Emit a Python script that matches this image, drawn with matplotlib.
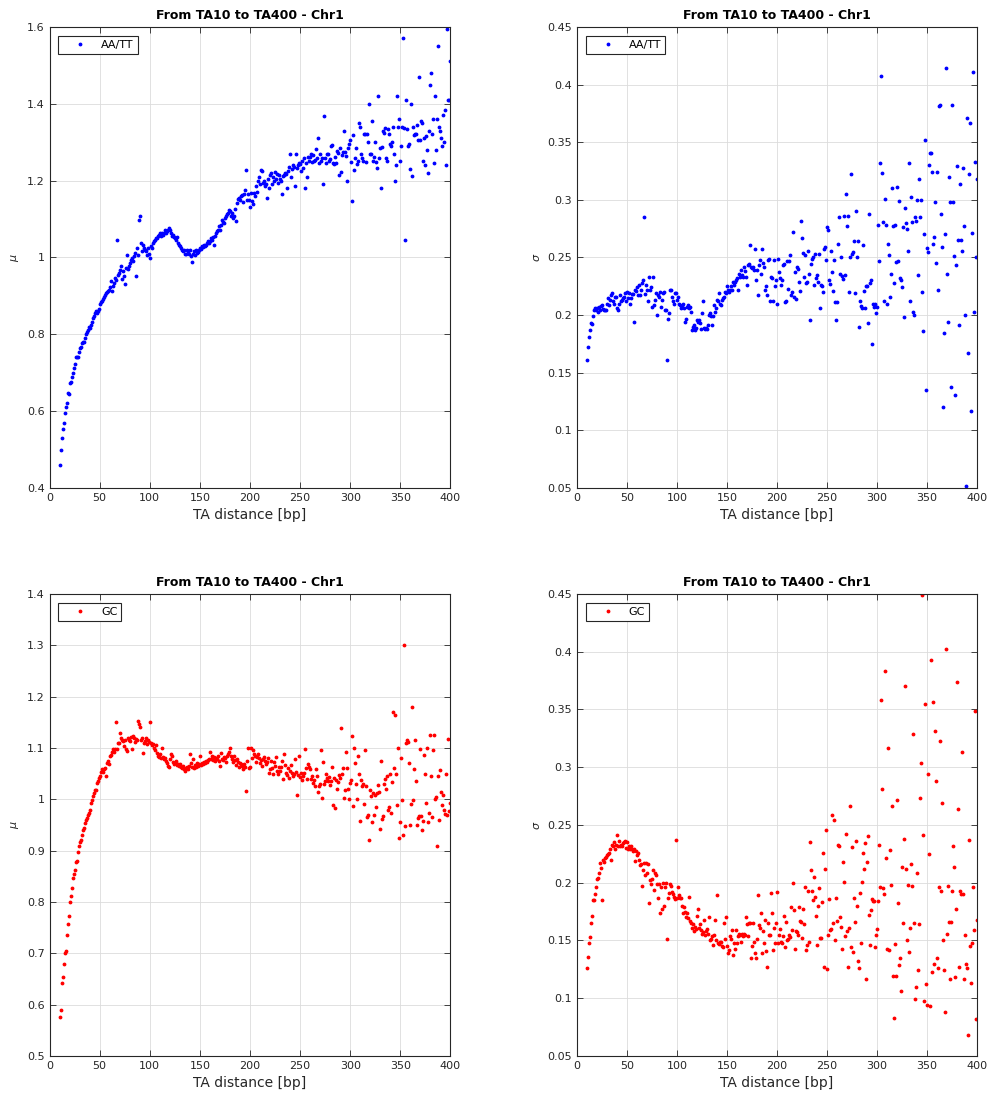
import numpy as np
import matplotlib
matplotlib.use('Agg')
import matplotlib.pyplot as plt
from matplotlib.ticker import FuncFormatter

# TA distance, bp
ta_dist = np.arange(10, 401)

# mean value, AA/TT
mu_aatt = [
    0.460, 0.500, 0.530, 0.553, 0.570, 0.595, 0.610, 0.620, 0.647, 0.644,
    0.673, 0.677, 0.690, 0.700, 0.712, 0.723, 0.742, 0.742, 0.742, 0.755,
    0.764, 0.768, 0.777, 0.781, 0.781, 0.790, 0.800, 0.807, 0.812, 0.819,
    0.816, 0.825, 0.833, 0.842, 0.848, 0.855, 0.860, 0.855, 0.860, 0.866,
    0.880, 0.883, 0.886, 0.892, 0.896, 0.903, 0.907, 0.909, 0.912, 0.916,
    0.923, 0.938, 0.912, 0.925, 0.933, 0.946, 0.942, 1.046, 0.955, 0.960,
    0.968, 0.977, 0.944, 0.964, 0.951, 0.932, 0.972, 1.007, 0.970, 0.977,
    0.985, 0.994, 0.998, 0.990, 1.003, 1.012, 0.952, 1.024, 1.007, 1.098,
    1.109, 1.037, 1.016, 1.033, 1.024, 1.020, 1.016, 1.007, 1.024, 1.010,
    0.998, 1.029, 1.024, 1.037, 1.042, 1.046, 1.050, 1.050, 1.055, 1.059,
    1.063, 1.055, 1.063, 1.059, 1.063, 1.072, 1.063, 1.068, 1.072, 1.077,
    1.072, 1.063, 1.055, 1.059, 1.053, 1.050, 1.046, 1.053, 1.037, 1.033,
    1.029, 1.024, 1.020, 1.016, 1.020, 1.010, 1.010, 1.020, 1.016, 1.010,
    1.020, 1.003, 0.987, 1.010, 1.016, 1.007, 1.020, 1.012, 1.014, 1.020,
    1.024, 1.022, 1.029, 1.027, 1.033, 1.031, 1.033, 1.037, 1.042, 1.037,
    1.044, 1.050, 1.046, 1.053, 1.033, 1.055, 1.063, 1.068, 1.072, 1.081,
    1.072, 1.085, 1.098, 1.092, 1.090, 1.103, 1.107, 1.112, 1.116, 1.123,
    1.120, 1.107, 1.116, 1.103, 1.109, 1.127, 1.094, 1.142, 1.152, 1.155,
    1.150, 1.160, 1.162, 1.145, 1.165, 1.176, 1.228, 1.150, 1.165, 1.150,
    1.132, 1.168, 1.148, 1.140, 1.168, 1.160, 1.185, 1.170, 1.200, 1.210,
    1.190, 1.228, 1.225, 1.195, 1.200, 1.185, 1.190, 1.155, 1.205, 1.180,
    1.215, 1.220, 1.190, 1.210, 1.200, 1.222, 1.205, 1.218, 1.195, 1.215,
    1.205, 1.200, 1.165, 1.212, 1.215, 1.220, 1.218, 1.180, 1.225, 1.235,
    1.270, 1.210, 1.230, 1.240, 1.235, 1.185, 1.268, 1.232, 1.240, 1.245,
    1.244, 1.226, 1.250, 1.232, 1.258, 1.180, 1.245, 1.210, 1.262, 1.252,
    1.262, 1.270, 1.248, 1.266, 1.250, 1.254, 1.282, 1.258, 1.310, 1.246,
    1.270, 1.252, 1.258, 1.190, 1.368, 1.258, 1.245, 1.270, 1.268, 1.250,
    1.255, 1.290, 1.292, 1.246, 1.244, 1.262, 1.246, 1.278, 1.272, 1.214,
    1.284, 1.222, 1.266, 1.274, 1.330, 1.274, 1.265, 1.200, 1.285, 1.296,
    1.305, 1.248, 1.148, 1.318, 1.228, 1.260, 1.286, 1.244, 1.250, 1.350,
    1.340, 1.268, 1.260, 1.250, 1.320, 1.320, 1.248, 1.320, 1.300, 1.400,
    1.268, 1.268, 1.355, 1.250, 1.262, 1.300, 1.248, 1.232, 1.420, 1.260,
    1.285, 1.180, 1.288, 1.330, 1.325, 1.338, 1.260, 1.250, 1.335, 1.320,
    1.295, 1.290, 1.300, 1.340, 1.270, 1.200, 1.240, 1.420, 1.340, 1.360,
    1.250, 1.290, 1.340, 1.570, 1.338, 1.045, 1.410, 1.335, 1.290, 1.295,
    1.230, 1.400, 1.212, 1.340, 1.318, 1.320, 1.322, 1.345, 1.305, 1.470,
    1.305, 1.355, 1.350, 1.250, 1.312, 1.240, 1.315, 1.280, 1.220, 1.330,
    1.450, 1.480, 1.320, 1.360, 1.245, 1.420, 1.280, 1.360, 1.550, 1.340,
    1.330, 1.310, 1.290, 1.370, 1.300, 1.385, 1.240, 1.595, 1.410, 1.410,
    1.510]

# standard deviation, AA/TT
sigma_aatt = [
    0.161, 0.172, 0.181, 0.187, 0.193, 0.192, 0.199, 0.204, 0.206, 0.204,
    0.206, 0.203, 0.207, 0.204, 0.208, 0.209, 0.205, 0.204, 0.204, 0.204,
    0.210, 0.215, 0.209, 0.213, 0.217, 0.219, 0.212, 0.210, 0.216, 0.216,
    0.206, 0.204, 0.210, 0.217, 0.212, 0.213, 0.215, 0.216, 0.219, 0.212,
    0.220, 0.215, 0.219, 0.210, 0.215, 0.218, 0.218, 0.194, 0.222, 0.221,
    0.224, 0.217, 0.226, 0.217, 0.222, 0.228, 0.230, 0.285, 0.218, 0.226,
    0.222, 0.212, 0.233, 0.222, 0.224, 0.207, 0.233, 0.209, 0.213, 0.219,
    0.200, 0.217, 0.216, 0.220, 0.207, 0.213, 0.219, 0.220, 0.204, 0.204,
    0.161, 0.197, 0.202, 0.222, 0.222, 0.216, 0.212, 0.210, 0.219, 0.219,
    0.213, 0.216, 0.210, 0.209, 0.206, 0.207, 0.210, 0.206, 0.194, 0.197,
    0.207, 0.209, 0.206, 0.207, 0.203, 0.187, 0.190, 0.191, 0.187, 0.189,
    0.196, 0.194, 0.196, 0.193, 0.188, 0.202, 0.212, 0.189, 0.188, 0.189,
    0.188, 0.191, 0.200, 0.202, 0.199, 0.191, 0.199, 0.209, 0.203, 0.206,
    0.213, 0.212, 0.219, 0.210, 0.209, 0.213, 0.215, 0.216, 0.220, 0.219,
    0.225, 0.222, 0.220, 0.222, 0.225, 0.222, 0.229, 0.226, 0.229, 0.230,
    0.232, 0.222, 0.236, 0.233, 0.239, 0.235, 0.233, 0.242, 0.238, 0.233,
    0.226, 0.243, 0.244, 0.261, 0.242, 0.241, 0.242, 0.239, 0.257, 0.230,
    0.239, 0.217, 0.243, 0.248, 0.236, 0.257, 0.245, 0.242, 0.222, 0.225,
    0.217, 0.248, 0.249, 0.212, 0.233, 0.232, 0.212, 0.248, 0.225, 0.230,
    0.210, 0.249, 0.237, 0.232, 0.226, 0.230, 0.243, 0.244, 0.211, 0.212,
    0.247, 0.223, 0.247, 0.252, 0.217, 0.220, 0.272, 0.216, 0.237, 0.214,
    0.242, 0.240, 0.229, 0.221, 0.282, 0.267, 0.254, 0.233, 0.252, 0.228,
    0.229, 0.256, 0.236, 0.196, 0.244, 0.249, 0.250, 0.226, 0.253, 0.232,
    0.235, 0.229, 0.253, 0.206, 0.226, 0.225, 0.220, 0.257, 0.259, 0.248,
    0.276, 0.274, 0.230, 0.227, 0.256, 0.237, 0.221, 0.248, 0.211, 0.196,
    0.211, 0.262, 0.285, 0.236, 0.250, 0.234, 0.231, 0.286, 0.235, 0.305,
    0.277, 0.286, 0.220, 0.250, 0.322, 0.253, 0.255, 0.264, 0.219, 0.290,
    0.250, 0.264, 0.190, 0.212, 0.208, 0.206, 0.261, 0.221, 0.206, 0.225,
    0.225, 0.193, 0.288, 0.228, 0.230, 0.175, 0.210, 0.207, 0.210, 0.202,
    0.207, 0.278, 0.247, 0.332, 0.407, 0.323, 0.281, 0.212, 0.301, 0.278,
    0.210, 0.262, 0.252, 0.216, 0.236, 0.310, 0.277, 0.228, 0.278, 0.246,
    0.311, 0.247, 0.299, 0.232, 0.230, 0.224, 0.276, 0.198, 0.293, 0.280,
    0.275, 0.256, 0.332, 0.212, 0.302, 0.281, 0.203, 0.200, 0.285, 0.282,
    0.300, 0.235, 0.318, 0.285, 0.300, 0.220, 0.186, 0.270, 0.352, 0.135,
    0.258, 0.255, 0.330, 0.341, 0.341, 0.324, 0.262, 0.268, 0.298, 0.245,
    0.324, 0.222, 0.381, 0.382, 0.288, 0.259, 0.120, 0.184, 0.270, 0.414,
    0.236, 0.194, 0.320, 0.298, 0.138, 0.382, 0.298, 0.251, 0.131, 0.243,
    0.329, 0.265, 0.191, 0.314, 0.265, 0.256, 0.328, 0.277, 0.200, 0.052,
    0.371, 0.167, 0.322, 0.367, 0.117, 0.271, 0.411, 0.203, 0.333, 0.250,
    0.318]

# mean value, GC
mu_gc = [
    0.575, 0.590, 0.642, 0.653, 0.680, 0.701, 0.705, 0.736, 0.757, 0.772,
    0.800, 0.812, 0.827, 0.846, 0.855, 0.863, 0.877, 0.879, 0.898, 0.909,
    0.916, 0.921, 0.931, 0.940, 0.944, 0.954, 0.960, 0.963, 0.970, 0.974,
    0.980, 0.993, 0.999, 1.006, 1.013, 1.019, 1.018, 1.032, 1.035, 1.041,
    1.046, 1.054, 1.058, 1.054, 1.059, 1.061, 1.046, 1.070, 1.074, 1.068,
    1.084, 1.087, 1.093, 1.097, 1.092, 1.098, 1.150, 1.097, 1.110, 1.109,
    1.130, 1.120, 1.116, 1.113, 1.103, 1.115, 1.097, 1.094, 1.120, 1.116,
    1.113, 1.122, 1.097, 1.123, 1.120, 1.112, 1.118, 1.115, 1.152, 1.147,
    1.140, 1.115, 1.120, 1.090, 1.110, 1.113, 1.120, 1.107, 1.115, 1.112,
    1.150, 1.110, 1.105, 1.108, 1.100, 1.095, 1.105, 1.090, 1.085, 1.082,
    1.088, 1.080, 1.100, 1.082, 1.078, 1.080, 1.075, 1.070, 1.065, 1.062,
    1.078, 1.088, 1.085, 1.072, 1.068, 1.070, 1.075, 1.066, 1.068, 1.064,
    1.068, 1.062, 1.060, 1.065, 1.058, 1.056, 1.060, 1.062, 1.058, 1.064,
    1.088, 1.070, 1.062, 1.078, 1.060, 1.066, 1.062, 1.070, 1.065, 1.068,
    1.085, 1.066, 1.070, 1.068, 1.072, 1.070, 1.074, 1.073, 1.076, 1.078,
    1.092, 1.078, 1.085, 1.076, 1.082, 1.075, 1.080, 1.078, 1.085, 1.075,
    1.064, 1.090, 1.078, 1.076, 1.082, 1.080, 1.072, 1.085, 1.088, 1.092,
    1.100, 1.085, 1.078, 1.072, 1.085, 1.076, 1.066, 1.078, 1.072, 1.062,
    1.070, 1.068, 1.064, 1.058, 1.068, 1.062, 1.017, 1.075, 1.100, 1.060,
    1.062, 1.100, 1.080, 1.095, 1.088, 1.085, 1.072, 1.083, 1.088, 1.080,
    1.070, 1.076, 1.064, 1.078, 1.082, 1.075, 1.068, 1.072, 1.080, 1.052,
    1.058, 1.074, 1.060, 1.050, 1.072, 1.065, 1.082, 1.055, 1.050, 1.062,
    1.056, 1.062, 1.074, 1.040, 1.088, 1.066, 1.052, 1.047, 1.060, 1.042,
    1.056, 1.066, 1.052, 1.045, 1.050, 1.078, 1.053, 1.008, 1.048, 1.084,
    1.044, 1.052, 1.038, 1.045, 1.052, 1.098, 1.060, 1.040, 1.068, 1.062,
    1.058, 1.040, 1.045, 1.032, 1.038, 1.026, 1.058, 1.045, 1.015, 1.025,
    1.030, 1.096, 1.002, 1.072, 1.030, 1.035, 1.050, 1.042, 1.036, 1.044,
    1.028, 1.035, 1.062, 0.988, 1.042, 0.982, 1.038, 1.020, 1.034, 1.048,
    1.042, 1.139, 1.050, 1.060, 1.003, 1.018, 1.092, 1.060, 1.020, 1.000,
    1.032, 1.037, 1.124, 0.986, 1.100, 1.070, 1.030, 1.001, 1.085, 1.050,
    0.958, 1.038, 1.025, 1.030, 0.990, 1.095, 1.025, 0.965, 0.970, 0.920,
    1.018, 1.006, 0.955, 1.013, 0.969, 1.008, 0.985, 1.012, 1.028, 1.015,
    0.943, 1.075, 0.962, 0.968, 1.030, 1.040, 1.020, 1.045, 0.980, 0.985,
    1.050, 0.973, 1.033, 1.170, 1.060, 1.165, 1.050, 0.988, 1.100, 0.925,
    0.955, 1.080, 0.998, 0.930, 1.300, 0.948, 1.110, 1.115, 1.112, 1.070,
    0.950, 0.990, 1.180, 0.998, 1.058, 1.115, 1.035, 0.950, 0.963, 0.968,
    1.098, 0.968, 0.940, 0.958, 1.086, 1.050, 0.992, 1.100, 0.955, 0.973,
    1.125, 1.046, 0.966, 1.095, 1.125, 1.000, 1.005, 0.908, 1.045, 0.960,
    1.057, 1.015, 0.988, 1.008, 0.980, 0.972, 1.050, 0.970, 1.118, 0.978,
    0.992]

# standard deviation, GC
sigma_gc = [
    0.126, 0.136, 0.148, 0.153, 0.165, 0.171, 0.185, 0.185, 0.190, 0.196,
    0.203, 0.204, 0.208, 0.217, 0.213, 0.185, 0.220, 0.218, 0.221, 0.222,
    0.224, 0.225, 0.226, 0.229, 0.220, 0.233, 0.232, 0.235, 0.229, 0.233,
    0.241, 0.232, 0.236, 0.232, 0.233, 0.232, 0.234, 0.235, 0.236, 0.230,
    0.235, 0.229, 0.232, 0.229, 0.232, 0.229, 0.227, 0.229, 0.219, 0.227,
    0.224, 0.226, 0.220, 0.215, 0.216, 0.197, 0.211, 0.217, 0.207, 0.217,
    0.208, 0.216, 0.182, 0.202, 0.199, 0.203, 0.211, 0.194, 0.208, 0.207,
    0.199, 0.187, 0.199, 0.174, 0.196, 0.177, 0.200, 0.180, 0.196, 0.200,
    0.151, 0.187, 0.191, 0.199, 0.197, 0.192, 0.190, 0.188, 0.186, 0.237,
    0.187, 0.196, 0.189, 0.187, 0.187, 0.180, 0.174, 0.179, 0.175, 0.170,
    0.174, 0.169, 0.188, 0.167, 0.165, 0.161, 0.164, 0.158, 0.162, 0.160,
    0.171, 0.177, 0.161, 0.164, 0.159, 0.156, 0.157, 0.168, 0.155, 0.158,
    0.160, 0.156, 0.170, 0.150, 0.151, 0.154, 0.146, 0.155, 0.168, 0.150,
    0.189, 0.148, 0.147, 0.149, 0.149, 0.145, 0.144, 0.165, 0.151, 0.170,
    0.145, 0.139, 0.142, 0.154, 0.151, 0.159, 0.137, 0.148, 0.143, 0.159,
    0.148, 0.154, 0.156, 0.155, 0.149, 0.156, 0.154, 0.156, 0.155, 0.170,
    0.164, 0.154, 0.165, 0.165, 0.135, 0.145, 0.165, 0.149, 0.139, 0.135,
    0.151, 0.189, 0.163, 0.161, 0.174, 0.139, 0.158, 0.148, 0.168, 0.141,
    0.127, 0.165, 0.155, 0.155, 0.191, 0.174, 0.142, 0.161, 0.148, 0.165,
    0.192, 0.148, 0.155, 0.160, 0.149, 0.148, 0.154, 0.171, 0.144, 0.166,
    0.150, 0.151, 0.155, 0.153, 0.179, 0.159, 0.200, 0.176, 0.143, 0.158,
    0.157, 0.155, 0.179, 0.167, 0.166, 0.152, 0.177, 0.164, 0.196, 0.142,
    0.146, 0.193, 0.149, 0.235, 0.211, 0.193, 0.185, 0.205, 0.188, 0.171,
    0.146, 0.180, 0.195, 0.152, 0.152, 0.183, 0.226, 0.127, 0.212, 0.246,
    0.125, 0.155, 0.186, 0.159, 0.160, 0.259, 0.165, 0.254, 0.150, 0.187,
    0.167, 0.233, 0.232, 0.170, 0.162, 0.143, 0.218, 0.201, 0.154, 0.242,
    0.158, 0.127, 0.161, 0.266, 0.144, 0.231, 0.140, 0.187, 0.166, 0.236,
    0.180, 0.132, 0.126, 0.191, 0.148, 0.201, 0.226, 0.212, 0.234, 0.117,
    0.218, 0.240, 0.172, 0.146, 0.176, 0.186, 0.184, 0.184, 0.144, 0.155,
    0.160, 0.184, 0.233, 0.196, 0.358, 0.281, 0.195, 0.190, 0.383, 0.221,
    0.143, 0.317, 0.142, 0.228, 0.198, 0.266, 0.119, 0.083, 0.147, 0.119,
    0.272, 0.182, 0.129, 0.135, 0.106, 0.214, 0.165, 0.238, 0.370, 0.212,
    0.150, 0.198, 0.140, 0.161, 0.216, 0.197, 0.329, 0.165, 0.099, 0.110,
    0.208, 0.124, 0.164, 0.273, 0.304, 0.449, 0.241, 0.098, 0.355, 0.112,
    0.094, 0.294, 0.225, 0.093, 0.393, 0.123, 0.356, 0.130, 0.331, 0.288,
    0.135, 0.126, 0.196, 0.323, 0.193, 0.269, 0.150, 0.124, 0.088, 0.402,
    0.156, 0.197, 0.166, 0.117, 0.166, 0.193, 0.232, 0.214, 0.118, 0.177,
    0.374, 0.264, 0.127, 0.193, 0.190, 0.313, 0.190, 0.117, 0.155, 0.130,
    0.126, 0.068, 0.237, 0.145, 0.113, 0.148, 0.196, 0.159, 0.349, 0.082,
    0.168]

panels = [
    # (data, color, legend, y limits, y ticks, y label, axes position)
    (mu_aatt, 'blue', 'AA/TT', (0.4, 1.6), np.arange(0.4, 1.61, 0.2), r'$\mu$',
     [0.050, 0.5556, 0.405, 0.4199]),
    (sigma_aatt, 'blue', 'AA/TT', (0.05, 0.45), np.arange(0.05, 0.451, 0.05), r'$\sigma$',
     [0.5828, 0.5556, 0.404, 0.4199]),
    (mu_gc, 'red', 'GC', (0.5, 1.4), np.arange(0.5, 1.41, 0.1), r'$\mu$',
     [0.050, 0.0383, 0.405, 0.4208]),
    (sigma_gc, 'red', 'GC', (0.05, 0.45), np.arange(0.05, 0.451, 0.05), r'$\sigma$',
     [0.5828, 0.0383, 0.404, 0.4208]),
]

fig = plt.figure(figsize=(9.9, 10.98), dpi=100)
dark = '#262626'

for values, color, name, ylim, yticks, ylab, pos in panels:
    ax = fig.add_axes(pos)
    ax.plot(ta_dist, values, '.', color=color, markersize=3.5, label=name)

    ax.set_xlim(0, 400)
    ax.set_ylim(*ylim)
    ax.set_xticks(np.arange(0, 401, 50))
    ax.set_yticks(yticks)
    ax.yaxis.set_major_formatter(FuncFormatter(lambda v, p: f'{v:g}'))

    ax.grid(True, color='#dcdcdc', linewidth=0.6)
    ax.set_axisbelow(True)
    ax.tick_params(direction='in', top=True, right=True, length=4, width=0.6,
                   labelsize=8, colors=dark, labelcolor=dark)
    for s in ax.spines.values():
        s.set_color(dark)
        s.set_linewidth(0.8)

    ax.set_title('From TA10 to TA400 - Chr1', fontsize=9, fontweight='bold', pad=6)
    ax.set_xlabel('TA distance [bp]', fontsize=10, color=dark)
    ax.set_ylabel(ylab, fontsize=8, color=dark)

    leg = ax.legend(loc='upper left', fontsize=8, fancybox=False, framealpha=1,
                    edgecolor=dark, handlelength=3.2, handletextpad=0.3,
                    borderaxespad=0.8, borderpad=0.35)
    leg.get_frame().set_linewidth(0.8)

plt.savefig('out.png', dpi=100)
